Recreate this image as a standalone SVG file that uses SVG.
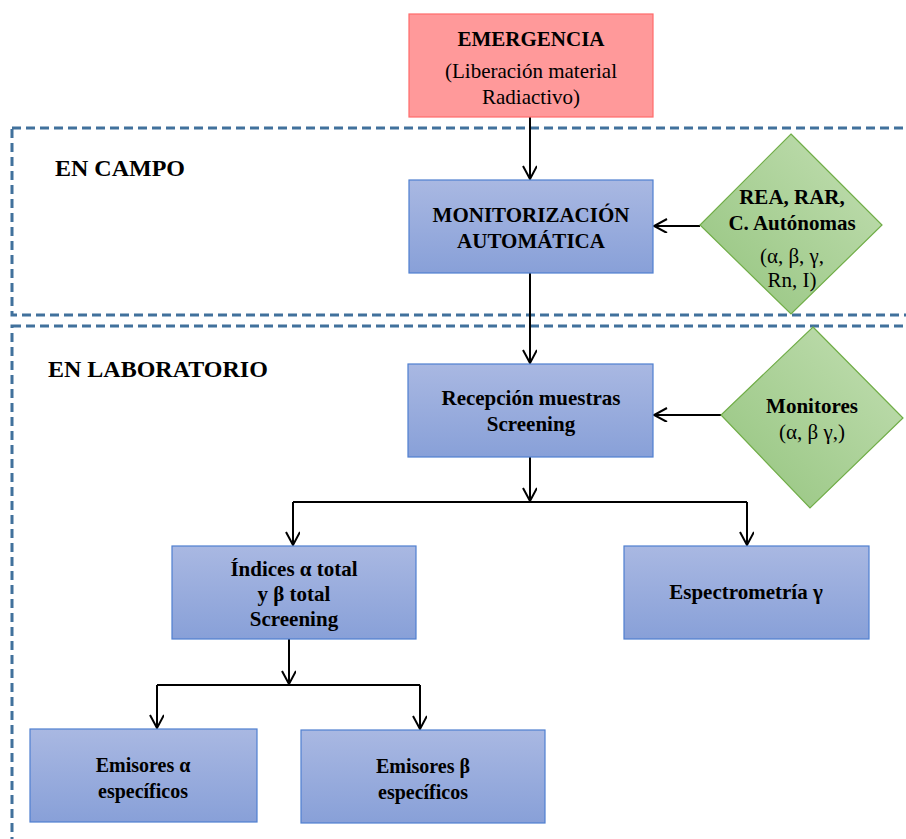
<svg xmlns="http://www.w3.org/2000/svg" width="906" height="839" viewBox="0 0 906 839">
  <style>
    text { font-family: "Liberation Serif", "Times New Roman", serif; fill: #000; text-anchor: middle; font-size: 21px; }
    .b { font-weight: bold; }
    .sm { font-size: 20px; }
    .lbl { font-weight: bold; font-size: 24px; text-anchor: start; }
    .zone { fill: none; stroke: #41719C; stroke-width: 3; stroke-dasharray: 9 5; }
    .box { fill: url(#blueGrad); stroke: #4F7FD0; stroke-width: 1.2; }
    .dia { fill: url(#greenGrad); stroke: #70AD47; stroke-width: 1.2; }
    .conn { fill: none; stroke: #000; stroke-width: 2; }
    .arr { marker-end: url(#open); }
  </style>
  <defs>
    <linearGradient id="blueGrad" x1="0" y1="0" x2="0" y2="1">
      <stop offset="0" stop-color="#A9B8E2"/>
      <stop offset="1" stop-color="#88A0D8"/>
    </linearGradient>
    <linearGradient id="greenGrad" x1="0" y1="1" x2="1" y2="0">
      <stop offset="0" stop-color="#94C47E"/>
      <stop offset="1" stop-color="#C3DFB3"/>
    </linearGradient>
    <marker id="open" markerWidth="16" markerHeight="16" refX="14" refY="7" orient="auto" markerUnits="userSpaceOnUse">
      <path d="M1,0 L14,7 L1,14" fill="none" stroke="#000" stroke-width="2"/>
    </marker>
  </defs>

  <rect width="906" height="839" fill="#fff"/>

  <!-- zones -->
  <g id="zone-campo">
    <rect class="zone" x="12" y="128" width="910" height="187"/>
    <text class="lbl" font-family="Liberation Serif" x="55" y="176">EN CAMPO</text>
  </g>
  <g id="zone-laboratorio">
    <rect class="zone" x="12" y="326" width="910" height="540"/>
    <text class="lbl" font-family="Liberation Serif" x="48" y="377">EN LABORATORIO</text>
  </g>

  <!-- connectors -->
  <g id="connectors">
    <line class="conn arr" x1="530" y1="117" x2="530" y2="179"/>
    <line class="conn arr" x1="700" y1="226" x2="654" y2="226"/>
    <line class="conn arr" x1="530" y1="273" x2="530" y2="363"/>
    <line class="conn arr" x1="721" y1="415" x2="654" y2="415"/>
    <line class="conn arr" x1="530" y1="457" x2="530" y2="501"/>
    <polyline class="conn" points="293,502 747,502"/>
    <line class="conn arr" x1="293" y1="502" x2="293" y2="545"/>
    <line class="conn arr" x1="747" y1="502" x2="747" y2="545"/>
    <line class="conn arr" x1="289" y1="639" x2="289" y2="684"/>
    <polyline class="conn" points="157,685 420,685"/>
    <line class="conn arr" x1="157" y1="685" x2="157" y2="728"/>
    <line class="conn arr" x1="420" y1="685" x2="420" y2="729"/>
  </g>

  <!-- nodes -->
  <g id="emergencia">
    <rect x="409" y="14" width="244" height="103" fill="#FF999A" stroke="#FF6B6B" stroke-width="1.2"/>
    <text class="b" font-family="Liberation Serif" x="531" y="46">EMERGENCIA</text>
    <text font-family="Liberation Serif" x="531" y="78">(Liberación material</text>
    <text font-family="Liberation Serif" x="531" y="104">Radiactivo)</text>
  </g>

  <g id="monitorizacion">
    <rect class="box" x="409" y="180" width="244" height="93"/>
    <text class="b" font-family="Liberation Serif" x="531" y="222">MONITORIZACIÓN</text>
    <text class="b" font-family="Liberation Serif" x="531" y="248">AUTOMÁTICA</text>
  </g>

  <g id="rea-rar">
    <polygon class="dia" points="791,134 882,225 791,314 700,225"/>
    <text class="b" font-family="Liberation Serif" x="792" y="204">REA, RAR,</text>
    <text class="b" font-family="Liberation Serif" x="792" y="230">C. Autónomas</text>
    <text font-family="Liberation Serif" x="792" y="263">(α, β, γ,</text>
    <text font-family="Liberation Serif" x="792" y="287">Rn, I)</text>
  </g>

  <g id="recepcion">
    <rect class="box" x="408" y="364" width="245" height="93"/>
    <text class="b" font-family="Liberation Serif" x="531" y="405">Recepción muestras</text>
    <text class="b" font-family="Liberation Serif" x="531" y="431">Screening</text>
  </g>

  <g id="monitores">
    <polygon class="dia" points="813,327 903,418 810,508 721,415"/>
    <text class="b" font-family="Liberation Serif" x="812" y="413">Monitores</text>
    <text font-family="Liberation Serif" x="812" y="439">(α, β γ,)</text>
  </g>

  <g id="indices">
    <rect class="box" x="172" y="546" width="244" height="93"/>
    <text class="b" font-family="Liberation Serif" x="294" y="576">Índices α total</text>
    <text class="b" font-family="Liberation Serif" x="294" y="601">y β total</text>
    <text class="b" font-family="Liberation Serif" x="294" y="626">Screening</text>
  </g>

  <g id="espectrometria">
    <rect class="box" x="624" y="546" width="245" height="93"/>
    <text class="b" font-family="Liberation Serif" x="746" y="599">Espectrometría γ</text>
  </g>

  <g id="emisores-alfa">
    <rect class="box" x="30" y="729" width="227" height="93"/>
    <text class="b sm" font-family="Liberation Serif" x="143" y="772">Emisores α</text>
    <text class="b sm" font-family="Liberation Serif" x="143" y="798">específicos</text>
  </g>

  <g id="emisores-beta">
    <rect class="box" x="301" y="730" width="244" height="93"/>
    <text class="b sm" font-family="Liberation Serif" x="423" y="773">Emisores β</text>
    <text class="b sm" font-family="Liberation Serif" x="423" y="799">específicos</text>
  </g>
</svg>
